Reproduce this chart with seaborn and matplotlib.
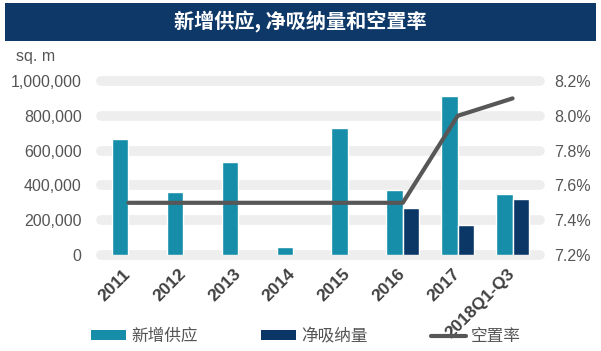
import numpy as np
import pandas as pd
import matplotlib
matplotlib.use("Agg")
import matplotlib.pyplot as plt
import seaborn as sns
from matplotlib.patches import Rectangle, Patch
from matplotlib.lines import Line2D
from matplotlib.ticker import FuncFormatter

# 数据
years = ["2011", "2012", "2013", "2014", "2015", "2016", "2017", "2018Q1-Q3"]
new_supply = [665000, 364000, 533000, 48000, 730000, 374000, 914000, 351000]
net_absorption = [np.nan, np.nan, np.nan, np.nan, np.nan, 270000, 172000, 322000]
vacancy = [7.5, 7.5, 7.5, 7.5, 7.5, 7.5, 8.0, 8.1]

series_names = ["新增供应", "净吸纳量", "空置率"]
title = "新增供应, 净吸纳量和空置率"

TEAL = "#168ea9"
NAVY = "#0b3767"
LINE = "#575757"
BANNER = "#0d3868"
GRID = "#eeeeee"
TXT = "#555555"

sns.set_theme(style="white")
plt.rcParams["font.family"] = ["Liberation Sans", "Noto Sans CJK SC", "DejaVu Sans"]
plt.rcParams["axes.unicode_minus"] = False

df = pd.DataFrame({
    "year": years * 2,
    "series": [series_names[0]] * len(years) + [series_names[1]] * len(years),
    "value": new_supply + net_absorption,
})

fig = plt.figure(figsize=(6.01, 3.51), dpi=100)

# 标题横幅
fig.patches.append(Rectangle((5 / 601, 1 - 41 / 351), 591 / 601, 38 / 351,
                             transform=fig.transFigure, facecolor=BANNER,
                             edgecolor="none", zorder=0))
fig.text(0.5, 1 - 22 / 351, title, color="white", fontsize=14.5, fontweight="bold",
         ha="center", va="center", family=["Noto Sans CJK SC", "DejaVu Sans"])

ax = fig.add_axes([101 / 601, 1 - 255 / 351, 439 / 601, 174 / 351])
sns.barplot(data=df, x="year", y="value", hue="series", hue_order=series_names[:2],
            palette=[TEAL, NAVY], width=0.6, saturation=1, errorbar=None,
            legend=False, ax=ax)
ax.set_ylim(0, 1000000)
ax.set_xlim(-0.5, len(years) - 0.5)
ax.set_yticks(np.arange(0, 1000001, 200000))
ax.yaxis.set_major_formatter(FuncFormatter(lambda v, p: f"{int(v):,}"))
ax.yaxis.grid(True, color=GRID, linewidth=7)
for gl in ax.get_ygridlines():
    gl.set_clip_on(False)
ax.set_axisbelow(True)
ax.set_xlabel("")
ax.set_ylabel("")
for s in ax.spines.values():
    s.set_visible(False)
ax.tick_params(axis="y", length=0, pad=14, labelsize=11.5, labelcolor=TXT)
ax.tick_params(axis="x", length=0, pad=12, labelsize=12.5, labelcolor="#404040")
ax.set_xticks(range(len(years)))
ax.set_xticklabels(years, rotation=45, ha="right", va="center",
                   rotation_mode="anchor", fontweight="bold")

ax2 = ax.twinx()
sns.lineplot(x=np.arange(len(years)), y=vacancy, color=LINE, linewidth=3, ax=ax2)
ax2.set_xlim(-0.5, len(years) - 0.5)
ax2.set_ylim(7.2, 8.2)
ax2.set_yticks([7.2, 7.4, 7.6, 7.8, 8.0, 8.2])
ax2.yaxis.set_major_formatter(FuncFormatter(lambda v, p: f"{v:.1f}%"))
for s in ax2.spines.values():
    s.set_visible(False)
ax2.tick_params(axis="y", length=0, pad=10, labelsize=11.5, labelcolor=TXT)
ax2.set_ylabel("")

fig.text(16 / 601, 1 - 57 / 351, "sq. m", fontsize=11.5, color=TXT,
         ha="left", va="center")

handles = [
    Patch(facecolor=TEAL, edgecolor="none"),
    Patch(facecolor=NAVY, edgecolor="none"),
    Line2D([0], [0], color=LINE, linewidth=3),
]
fig.legend(handles, series_names, loc="center left", bbox_to_anchor=(91 / 601, 1 - 336 / 351),
           ncol=3, frameon=False, fontsize=12, handlelength=2.1, handleheight=0.5,
           handletextpad=0.3, columnspacing=3.8, borderpad=0, borderaxespad=0,
           labelcolor=TXT)

fig.savefig("out.png", dpi=100)
